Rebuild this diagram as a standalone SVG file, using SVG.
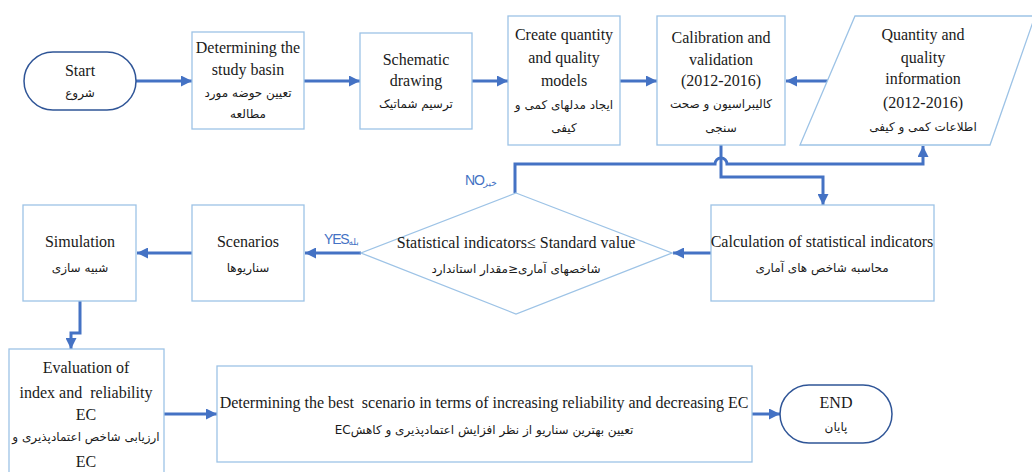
<svg xmlns="http://www.w3.org/2000/svg" width="1032" height="472" viewBox="0 0 1032 472">
<style>
.box{fill:#fff;stroke:#9DC3E6;stroke-width:1.3}
.term{fill:#fff;stroke:#2F5597;stroke-width:1.5}
.en{font-family:"Liberation Serif","Times New Roman",serif;font-size:16px;fill:#1a1a1a;text-anchor:middle}
.fa{font-family:"DejaVu Sans","Noto Sans",sans-serif;font-size:12px;fill:#1a1a1a;text-anchor:middle;direction:rtl}
.lbl{font-family:"Liberation Sans",Arial,sans-serif;font-size:14px;fill:#4472C4}
.lbllat{letter-spacing:-1.2px}
.lblfa{font-family:"DejaVu Sans",sans-serif;font-size:9px}
.con{fill:none;stroke:#4472C4;stroke-width:3}
</style>
<defs>
<marker id="ah" viewBox="0 0 10 10" refX="10" refY="5" markerWidth="12" markerHeight="11" markerUnits="userSpaceOnUse" orient="auto">
<path d="M0,0 L10,5 L0,10 z" fill="#4472C4"/>
</marker>
</defs>
<rect width="1032" height="472" fill="#fff"/>

<g id="connectors">
<path class="con" d="M136,81 H192" marker-end="url(#ah)"/>
<path class="con" d="M304,81 H360" marker-end="url(#ah)"/>
<path class="con" d="M472,81 H508" marker-end="url(#ah)"/>
<path class="con" d="M620,81 H657" marker-end="url(#ah)"/>
<path class="con" d="M828,81 H786" marker-end="url(#ah)"/>
<path class="con" d="M721,145 V177 H823 V205" marker-end="url(#ah)"/>
<path class="con" d="M515,193 V164 H715 A6,6 0 0 1 727,164 H923 V146" marker-end="url(#ah)"/>
<path class="con" d="M711,253 H673" marker-end="url(#ah)"/>
<path class="con" d="M361,253 H305" marker-end="url(#ah)"/>
<path class="con" d="M192,253 H137" marker-end="url(#ah)"/>
<path class="con" d="M80,301 V333 H71 V349" marker-end="url(#ah)"/>
<path class="con" d="M164,414 H217" marker-end="url(#ah)"/>
<path class="con" d="M752,414 H780" marker-end="url(#ah)"/>
<text id="label-no" class="lbl" x="465" y="185"><tspan class="lbllat">NO</tspan><tspan class="lblfa" dy="1">خیر</tspan></text>
<text id="label-yes" class="lbl" x="324" y="244"><tspan class="lbllat">YES</tspan><tspan class="lblfa" dy="1">بله</tspan></text>
</g>

<g id="start">
<rect class="term" x="24" y="52" width="112" height="58" rx="29" ry="29"/>
<text class="en" x="80" y="76">Start</text>
<text class="fa" x="80" y="97">شروع</text>
</g>

<g id="study-basin">
<rect class="box" x="192" y="32" width="112" height="97"/>
<text class="en" x="248" y="53">Determining the</text>
<text class="en" x="248" y="75">study basin</text>
<text class="fa" x="248" y="97">تعیین حوضه مورد</text>
<text class="fa" x="248" y="118">مطالعه</text>
</g>

<g id="schematic">
<rect class="box" x="360" y="33" width="112" height="96"/>
<text class="en" x="416" y="65">Schematic</text>
<text class="en" x="416" y="86">drawing</text>
<text class="fa" x="416" y="108">ترسیم شماتیک</text>
</g>

<g id="models">
<rect class="box" x="508" y="16" width="112" height="129"/>
<text class="en" x="564" y="40">Create quantity</text>
<text class="en" x="564" y="63">and quality</text>
<text class="en" x="564" y="86">models</text>
<text class="fa" x="564" y="109">ایجاد مدلهای کمی و</text>
<text class="fa" x="564" y="132">کیفی</text>
</g>

<g id="calibration">
<rect class="box" x="657" y="16" width="128" height="129"/>
<text class="en" x="721" y="43">Calibration and</text>
<text class="en" x="721" y="65">validation</text>
<text class="en" x="721" y="86">(2012-2016)</text>
<text class="fa" x="721" y="108">کالیبراسیون و صحت</text>
<text class="fa" x="721" y="132">سنجی</text>
</g>

<g id="information">
<polygon class="box" points="855,16 1035,16 990,145 800,145"/>
<text class="en" x="923" y="40">Quantity and</text>
<text class="en" x="923" y="63">quality</text>
<text class="en" x="923" y="84">information</text>
<text class="en" x="923" y="108">(2012-2016)</text>
<text class="fa" x="923" y="131">اطلاعات کمی و کیفی</text>
</g>

<g id="statistics">
<rect class="box" x="711" y="205" width="223" height="96"/>
<text class="en" x="822" y="247">Calculation of statistical indicators</text>
<text class="fa" x="822" y="272">محاسبه شاخص های آماری</text>
</g>

<g id="decision">
<polygon class="box" points="516,193 672,253 516,314 361,253"/>
<text class="en" x="516" y="248">Statistical indicators≤ Standard value</text>
<text class="fa" x="516" y="273">شاخصهای آماری≤مقدار استاندارد</text>
</g>

<g id="scenarios">
<rect class="box" x="192" y="205" width="112" height="96"/>
<text class="en" x="248" y="247">Scenarios</text>
<text class="fa" x="248" y="272">سناریوها</text>
</g>

<g id="simulation">
<rect class="box" x="23" y="205" width="113" height="96"/>
<text class="en" x="80" y="247">Simulation</text>
<text class="fa" x="80" y="272">شبیه سازی</text>
</g>

<g id="evaluation">
<rect class="box" x="9" y="349" width="155" height="130"/>
<text class="en" x="86" y="373">Evaluation of</text>
<text class="en" x="86" y="398" xml:space="preserve">index and  reliability</text>
<text class="en" x="86" y="420">EC</text>
<text class="fa" x="86" y="441">ارزیابی شاخص اعتمادپذیری و</text>
<text class="en" x="86" y="467">EC</text>
</g>

<g id="best-scenario">
<rect class="box" x="217" y="366" width="535" height="96"/>
<text class="en" x="484" y="408" xml:space="preserve">Determining the best  scenario in terms of increasing reliability and decreasing EC</text>
<text class="fa" x="484" y="434">تعیین بهترین سناریو از نظر افزایش اعتمادپذیری و کاهشEC</text>
</g>

<g id="end">
<rect class="term" x="780" y="385" width="112" height="58" rx="29" ry="29"/>
<text class="en" x="836" y="408">END</text>
<text class="fa" x="836" y="431">پایان</text>
</g>
</svg>
